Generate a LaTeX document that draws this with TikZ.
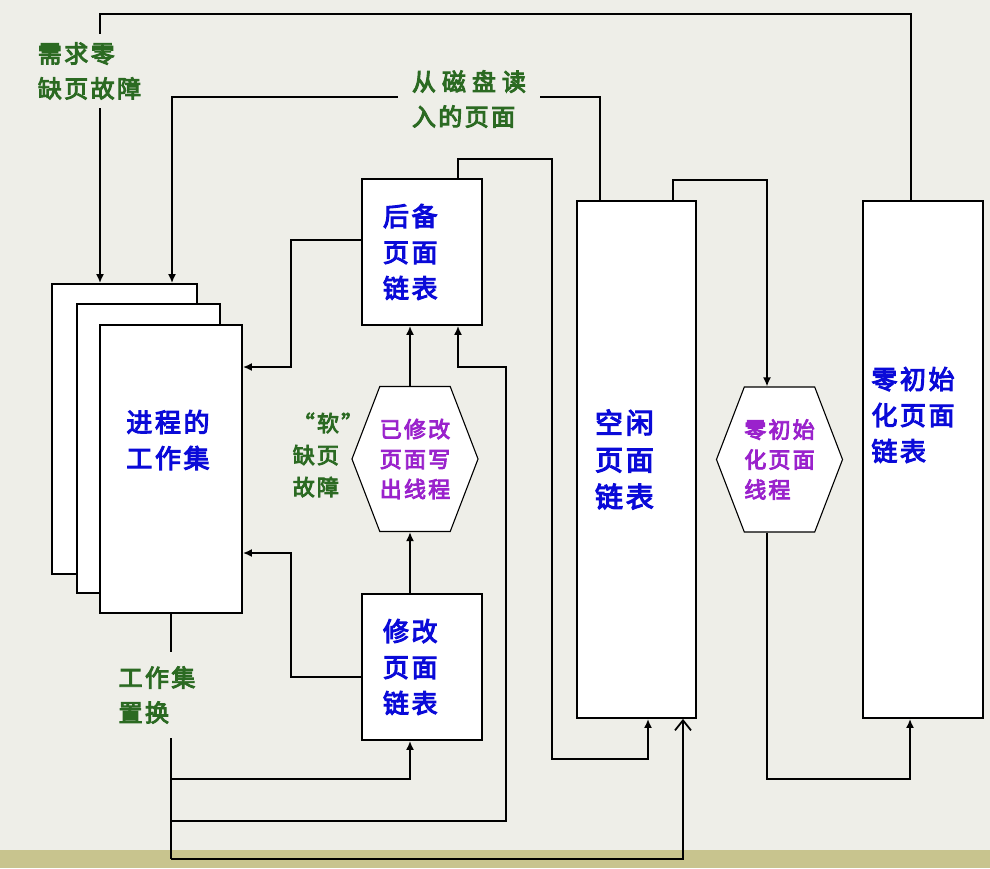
\documentclass[tikz,border=0pt]{standalone}
\usepackage{fontspec}
\newfontfamily\cjk{Noto Sans CJK SC}[LetterSpace=10,FakeBold=4]
\usetikzlibrary{positioning, arrows.meta, shapes.symbols, calc}

\definecolor{bgpaper}{HTML}{EEEEE8}
\definecolor{bgstrip}{HTML}{C8C48E}
\definecolor{listblue}{HTML}{0A0AD8}
\definecolor{labelgreen}{HTML}{2B6A22}
\definecolor{threadpurple}{HTML}{9A22CC}

\begin{document}
\begin{tikzpicture}[
    x=1pt, y=-1pt,
    list/.style={draw, line width=1.8pt, fill=white, inner sep=0pt},
    stack/.style={list, minimum width=143pt, minimum height=289pt},
    thread/.style={
        draw, 
        shape=signal, 
        signal to=east and west, 
        signal pointer angle=138, 
        line width=1.1pt, 
        fill=white, 
        minimum width=120pt, 
        minimum height=145pt, 
        inner sep=0pt, 
        align=left, 
        text=threadpurple, 
        font=\cjk\fontsize{22}{30}\selectfont
    },
    listtext/.style={text=listblue, align=left, font=\cjk\fontsize{26}{36}\selectfont},
    flowtext/.style={text=labelgreen, align=left, fill=bgpaper, inner xsep=8pt, inner ysep=8pt, font=\cjk\fontsize{24}{35}\selectfont},
    flow/.style={line width=1.8pt, -{Latex[length=9pt,width=8pt]}},
    openflow/.style={line width=1.8pt, -{Straight Barb[length=10pt,width=16pt]}},
    bus/.style={line width=1.8pt}
]

% Background
\fill[bgpaper] (0,0) rectangle (990,868);
\fill[bgstrip] (0,850) rectangle (990,868);
\useasboundingbox (0,0) rectangle (990,868);

% Working set (stacked pages)
\node[stack, minimum width=145pt, minimum height=290pt] (ws3) at (124.5,429) {};
\node[stack] (ws2) at (148.5,448.5) {};
\node[stack, minimum width=142pt, minimum height=288pt] (ws) at (171,469) {};
\node[listtext] (wstext) at (168,440) {进程的\\工作集};

% Page lists
\node[list, listtext, text width=78pt, minimum width=120pt, minimum height=146pt] (backup) at (422,252) {后备\\页面\\链表};
\node[list, listtext, text width=78pt, minimum width=120pt, minimum height=146pt] (modified) at (422,667) {修改\\页面\\链表};
\node[list, listtext, text width=83pt, font=\cjk\fontsize{28}{37}\selectfont, minimum width=119pt, minimum height=517pt] (free) at (636.5,459.5) {空闲\\页面\\链表};
\node[list, minimum width=120pt, minimum height=517pt] (zero) at (923,459.5) {};
\node[listtext] (zerotext) at (913,415) {零初始\\化页面\\链表};

% Threads
\node[thread] (writer) at (415,459) {已修改\\页面写\\出线程};
\node[thread, minimum width=121pt] (zeroer) at (779.5,459.5) {零初始\\化页面\\线程};

% Connections
\draw[flow] ([xshift=-12pt]zero.north) |- (100,14) -- ([xshift=-24.5pt]ws3.north);
\draw[flow] ([xshift=-36.5pt]free.north) |- (172,97) -- ([xshift=47.5pt]ws3.north);
\draw[flow] ([xshift=36.5pt]free.north) |- (767,180) -- ([xshift=-12.5pt]zeroer.north);
\draw[flow] ([xshift=-12.5pt]zeroer.south) |- (910,779) -- ([xshift=-13pt]zero.south);
\draw[flow] ([xshift=36pt]backup.north) |- (552,159) |- (648,759) -- ([xshift=11.5pt]free.south);
\draw[flow] ([yshift=12pt]backup.west) -| (291,367) -- ([yshift=102pt]ws.east);
\draw[flow] ([yshift=-10pt]modified.west) -| (291,553) -- ([yshift=-84pt]ws.east);
\draw[flow] ([xshift=-12pt]modified.north) coordinate (mw) -- (mw |- writer.south);
\draw[flow] (mw |- writer.north) -- (mw |- backup.south);

% Working set replacement
\draw[bus] (ws.south) -- (ws.south |- 0,859);
\draw[flow] (ws.south |- 0,779) -| ([xshift=-12pt]modified.south);
\draw[flow] (ws.south |- 0,821) -| (506,367) -| ([xshift=36pt]backup.south);
\draw[openflow] (ws.south |- 0,859) -| ([xshift=46.5pt]free.south);

% Labels
\node[flowtext] (demandzero) at (89.5,71) {需求零\\缺页故障};
\node[flowtext, inner xsep=14pt] (diskread) at (469,99) {从\hspace{6pt}磁\hspace{6pt}盘\hspace{6pt}读\\入的页面};
\node[flowtext, inner ysep=14pt] (replace) at (157,695) {工作集\\置换};
\node[flowtext, fill=none, font=\cjk\fontsize{22}{32}\selectfont] (softfault) at (328,455) {“软”\\缺页\\故障};

\end{tikzpicture}
\end{document}
